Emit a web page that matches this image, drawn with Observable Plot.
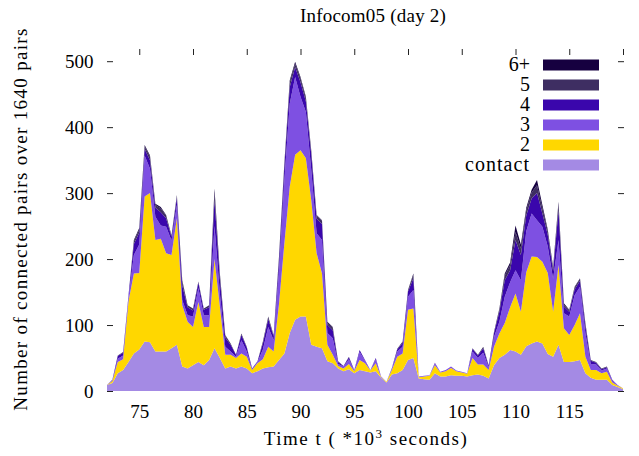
<!DOCTYPE html>
<html><head><meta charset="utf-8">
<script src="https://cdn.jsdelivr.net/npm/d3@7"></script>
<script src="https://cdn.jsdelivr.net/npm/@observablehq/plot@0.6"></script>
<style>html,body{margin:0;padding:0;background:#fff;} svg{display:block}</style>
</head><body><div id="chart"></div>
<script>
const times = [72,72.5,73,73.5,74,74.5,75,75.5,76,76.5,77,77.5,78,78.5,79,79.5,80,80.5,81,81.5,82,82.5,83,83.5,84,84.5,85,85.5,86,86.5,87,87.5,88,88.5,89,89.5,90,90.5,91,91.5,92,92.5,93,93.5,94,94.5,95,95.5,96,96.5,97,97.5,98,98.5,99,99.5,100,100.5,101,101.5,102,102.5,103,103.5,104,104.5,105,105.5,106,106.5,107,107.5,108,108.5,109,109.5,110,110.5,111,111.5,112,112.5,113,113.5,114,114.5,115,115.5,116,116.5,117,117.5,118,118.5,119,119.5,120];
const contact = [9,12,27,32,44,57,63,75,74,60,60,60,65,70,37,34,39,44,39,47,65,50,34,37,34,37,34,27,30,34,36,37,47,57,88,108,113,113,70,67,65,45,42,34,30,33,27,32,30,28,30,20,13,25,27,32,47,50,19,18,17,27,22,22,24,23,23,22,24,25,23,19,39,50,55,62,60,55,68,72,75,72,56,52,70,44,44,45,47,27,20,17,17,17,9,6,3];
const two     = [0,3,17,16,92,121,116,220,226,169,171,149,141,192,93,71,58,91,58,50,135,78,21,18,16,20,18,5,12,14,31,23,85,167,222,250,252,240,219,142,113,25,13,4,4,8,3,15,12,3,12,1,1,7,25,25,76,75,2,4,6,12,6,8,11,7,5,4,26,15,17,13,28,37,48,65,88,65,112,132,128,124,123,68,121,51,41,55,71,25,12,15,10,12,4,2,1];
const three   = [0,1,5,6,6,28,43,62,37,35,20,40,22,20,8,10,16,21,18,18,50,20,12,5,2,20,8,1,2,15,30,17,51,96,126,118,81,70,46,30,51,18,25,3,3,7,1,12,4,1,6,1,0,2,8,10,20,28,1,1,1,3,1,2,2,1,1,1,10,10,18,4,15,18,40,38,35,48,62,65,56,53,40,50,38,23,28,45,40,36,9,8,4,5,3,1,0];
const four    = [0,1,4,4,3,17,18,10,13,14,20,13,6,11,22,12,9,8,8,12,40,22,14,10,3,8,6,1,1,9,12,6,15,20,25,15,22,16,24,22,24,12,12,3,1,3,1,3,1,0,2,0,0,1,3,6,8,18,0,0,0,1,0,0,0,0,0,0,4,4,7,2,6,15,25,18,46,38,24,23,41,20,18,12,45,10,7,9,9,10,5,3,2,2,1,0,0];
const five    = [0,0,1,1,0,4,5,4,5,4,6,4,2,3,6,3,3,2,2,3,10,6,3,2,0,2,1,0,0,3,3,2,4,5,7,5,6,5,6,5,5,3,4,1,0,1,0,0,0,0,0,0,0,0,1,2,2,5,0,0,0,0,0,0,0,0,0,0,1,1,2,1,2,4,7,8,12,10,8,9,12,8,6,4,9,3,2,3,3,3,1,1,1,1,0,0,0];
const six     = [0,0,0,0,0,2,2,2,2,2,2,1,0,1,2,0,0,0,0,0,7,2,1,0,0,0,0,0,0,0,1,0,2,1,3,3,2,2,0,1,1,2,1,0,0,0,0,0,0,0,0,0,0,0,0,0,0,2,0,0,0,0,0,0,0,0,0,0,0,0,0,0,0,1,3,4,10,6,4,4,8,5,2,2,4,2,1,1,1,2,0,0,0,0,0,0,0];
const seriesNames  = ["contact", "2", "3", "4", "5", "6+"];
const seriesColors = ["#a48ae4", "#ffd700", "#7e50e2", "#3a06ac", "#3e2e62", "#160040"];
const xTicks   = [75, 80, 85, 90, 95, 100, 105, 110, 115];
const topTicks = [75, 80, 85, 90, 95, 100, 105, 110, 115, 120];
const yTicks   = [0, 100, 200, 300, 400, 500];
const titleText = "Infocom05 (day 2)";
const yLabelText = "Number of connected pairs over 1640 pairs";

const FONT = "'Liberation Serif','Times New Roman',serif";
const cols = [contact, two, three, four, five, six];
const data = [];
times.forEach((t, i) => seriesNames.forEach((s, k) => data.push({t, s, v: cols[k][i]})));

const chart = Plot.plot({
  width: 639, height: 456,
  marginLeft: 107, marginRight: 16, marginTop: 48, marginBottom: 65,
  style: {fontFamily: FONT, fontSize: "19px", color: "#000", background: "#fff", overflow: "visible"},
  x: {domain: [72, 120]},
  y: {domain: [0, 520]},
  color: {domain: seriesNames, range: seriesColors},
  marks: [
    Plot.areaY(data, {x: "t", y: "v", z: "s", fill: "s"}),
    Plot.axisX(xTicks, {anchor: "bottom", tickSize: 0, tickPadding: 13, label: null}),
    Plot.axisX(topTicks, {anchor: "top", tickSize: -6, tickFormat: () => "", label: null, stroke: "#222"}),
    Plot.axisY(yTicks, {anchor: "left", tickSize: -6, tickPadding: 20, label: null, stroke: "#222"}),
    Plot.axisY(yTicks, {anchor: "right", tickSize: -6, tickFormat: () => "", label: null, stroke: "#222"})
  ]
});
document.getElementById("chart").appendChild(chart);

function fitWidth(sel, target) {
  const node = sel.node();
  const n = node.textContent.length;
  const w = node.getComputedTextLength();
  if (n > 1) sel.attr("letter-spacing", ((target - w) / (n - 1)).toFixed(2));
}

const svg = d3.select(chart);
const g = svg.append("g").attr("font-family", FONT).attr("fill", "#000");
const ti = g.append("text").attr("x", 373).attr("y", 22).attr("text-anchor", "middle").attr("font-size", 19).text(titleText);
fitWidth(ti, 146);
const xl = g.append("text").attr("x", 366).attr("y", 445).attr("text-anchor", "middle").attr("font-size", 19);
xl.append("tspan").text("Time t ( *10");
xl.append("tspan").attr("font-size", 13).attr("dy", -7).text("3");
xl.append("tspan").attr("dy", 7).text(" seconds)");
fitWidth(xl, 203);
const yl = g.append("text").attr("transform", "translate(27,219) rotate(-90)").attr("text-anchor", "middle").attr("font-size", 19).text(yLabelText);
fitWidth(yl, 382);

const legendOrder = seriesNames.map((s, k) => k).reverse();
legendOrder.forEach((k, j) => {
  const lt = g.append("text").attr("x", 530).attr("y", 71 + 20 * j).attr("text-anchor", "end").attr("font-size", 20).text(seriesNames[k]);
  if (seriesNames[k].length > 3) fitWidth(lt, 64);
  g.append("rect").attr("x", 543).attr("y", 59.5 + 20 * j).attr("width", 56).attr("height", 11).attr("fill", seriesColors[k]);
});
</script></body></html>
